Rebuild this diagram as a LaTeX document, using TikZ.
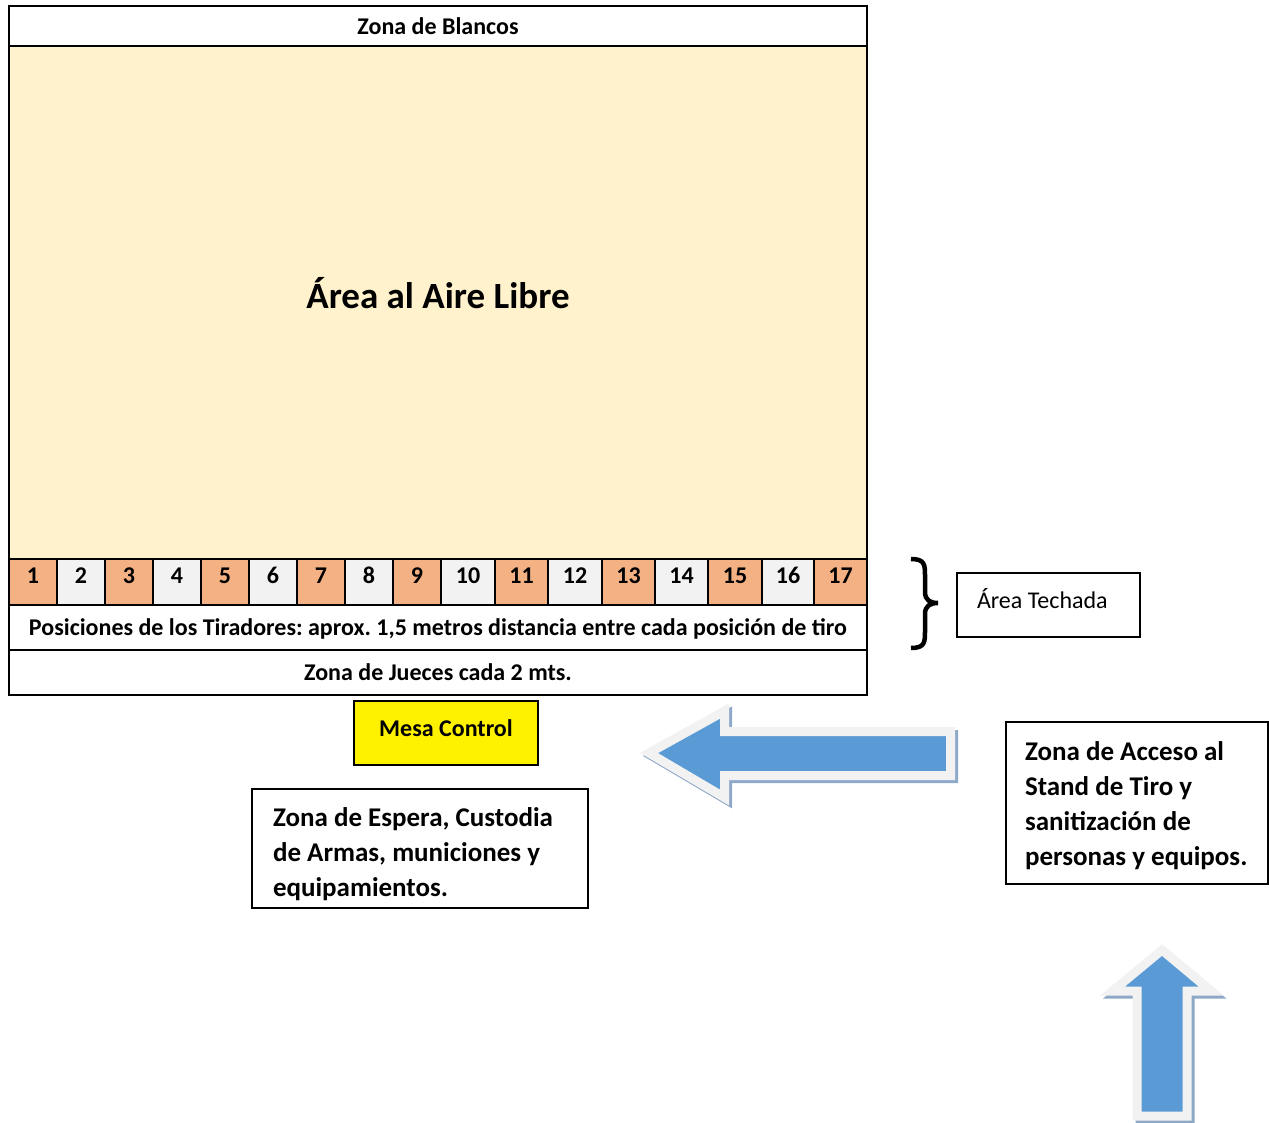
\documentclass[tikz,border=0pt]{standalone}
\usepackage{fontspec}
\setmainfont{Carlito}
\frenchspacing

\definecolor{fondo}{HTML}{FFF2CC}
\definecolor{naranja}{HTML}{F4B183}
\definecolor{grisclaro}{HTML}{F2F2F2}
\definecolor{azul}{HTML}{5B9BD5}
\definecolor{sombra}{HTML}{8EA9C8}

\begin{document}
\begin{tikzpicture}[x=1pt,y=-1pt,line width=1.5pt,inner sep=0pt,
		font=\bfseries\fontsize{24}{28}\selectfont]
		\tikzstyle{Franja}=[draw,minimum width=858]
		\tikzstyle{Puesto}=[draw,minimum height=46,text height=15pt,text depth=13pt]
		\tikzstyle{Caja}=[draw,align=flush left,font=\bfseries\fontsize{27}{35}\selectfont]
		\tikzstyle{Flecha}=[fill=azul,draw=grisclaro,line width=9pt,line join=miter]
		\tikzstyle{FlechaSombra}=[fill=sombra,draw=sombra,line width=9pt,line join=miter,shift={(3,3)}]

		\useasboundingbox (0,0) rectangle (1269,1122);

		\node at (438,26) [Franja,minimum height=40] (blancos) {Zona de Blancos};
		\node at (438,302.5) [Franja,minimum height=513,fill=fondo,text height=21pt,text depth=10pt,
			font=\bfseries\fontsize{37}{40}\selectfont] (aire) {Área al Aire Libre};

		\foreach \n/\a/\b/\c in {1/9/57/naranja, 2/57/105/grisclaro, 3/105/153/naranja,
				4/153/201/grisclaro, 5/201/249/naranja, 6/249/297/grisclaro, 7/297/345/naranja,
				8/345/393/grisclaro, 9/393/441/naranja, 10/441/495/grisclaro, 11/495/548/naranja,
				12/548/602/grisclaro, 13/602/655/naranja, 14/655/708/grisclaro, 15/708/762/naranja,
				16/762/814/grisclaro, 17/814/867/naranja}
			\node at ({(\a+\b)/2},582) [Puesto,minimum width={\b-\a},fill=\c] (p\n) {\n};

		\node at (438,627.5) [Franja,minimum height=45,text height=18pt,text depth=3pt] (tiradores) {Posiciones de los Tiradores: aprox. 1,5 metros distancia entre cada posición de tiro};
		\node at (438,672.5) [Franja,minimum height=45] (jueces) {Zona de Jueces cada 2 mts.};

		\node at (446,733) [draw,fill=yellow,minimum width=184,minimum height=64,
			text height=15pt,text depth=9pt] (mesa) {Mesa Control};
		\node at (420,848.5) [Caja,minimum width=336,minimum height=119,text width=294,
			text height=32pt,text depth=77pt] (espera)
			{Zona de Espera, Custodia\\de Armas, municiones y\\equipamientos.};
		\node at (1137,803) [Caja,minimum width=262,minimum height=162,text width=224,
			text height=26pt,text depth=112pt] (acceso)
			{Zona de Acceso al\\Stand de Tiro y\\sanitización de\\personas y equipos.};
		\node at (1048.5,605) [draw,align=flush left,minimum width=183,minimum height=64,text width=143,
			text height=17pt,text depth=10pt,font=\mdseries\fontsize{24}{28}\selectfont] (techada) {Área Techada};

		% llave del area techada
		\draw[line width=4.5pt] (911,559) .. controls (925,559) and (925,565) .. (925,576) -- (925,592)
			.. controls (925,600) and (930,603) .. (938,603) .. controls (930,603) and (925,606) .. (925,614)
			-- (925,631) .. controls (925,642) and (925,648) .. (911,648);

		% flechas
		\draw[FlechaSombra] (649,753) -- (724.5,711) -- (724.5,731.5) -- (950.5,731.5) -- (950.5,775.5)
			-- (724.5,775.5) -- (724.5,797.5) -- cycle;
		\draw[Flecha] (649,753) -- (724.5,711) -- (724.5,731.5) -- (950.5,731.5) -- (950.5,775.5)
			-- (724.5,775.5) -- (724.5,797.5) -- cycle;
		\draw[FlechaSombra] (1162,950) -- (1211,991) -- (1187,991) -- (1187,1116) -- (1137,1116)
			-- (1137,991) -- (1112.5,991) -- cycle;
		\draw[Flecha] (1162,950) -- (1211,991) -- (1187,991) -- (1187,1116) -- (1137,1116)
			-- (1137,991) -- (1112.5,991) -- cycle;
	\end{tikzpicture}
\end{document}
